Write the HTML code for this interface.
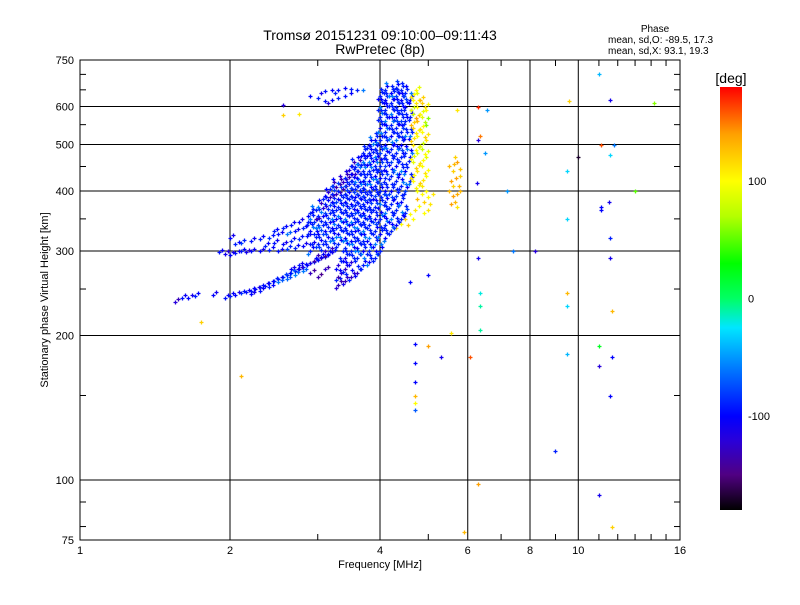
<!DOCTYPE html>
<html><head><meta charset="utf-8"><style>
body{margin:0;background:#fff;}
svg text{font-family:"Liberation Sans",sans-serif;fill:#000;}
</style></head><body>
<svg id="chart" width="800" height="600" xmlns="http://www.w3.org/2000/svg">
<defs><linearGradient id="cb" x1="0" y1="1" x2="0" y2="0">
<stop offset="0" stop-color="#000"/><stop offset="0.083" stop-color="#500082"/><stop offset="0.167" stop-color="#2800dc"/>
<stop offset="0.222" stop-color="#0000ff"/><stop offset="0.333" stop-color="#0078ff"/><stop offset="0.431" stop-color="#00e6ff"/>
<stop offset="0.5" stop-color="#00ff64"/><stop offset="0.583" stop-color="#00ff00"/><stop offset="0.694" stop-color="#b4ff00"/>
<stop offset="0.778" stop-color="#ffff00"/><stop offset="0.889" stop-color="#ffa000"/><stop offset="1" stop-color="#ff0000"/>
</linearGradient></defs>
<text x="380" y="40" font-size="14" text-anchor="middle">Tromsø 20151231 09:10:00–09:11:43</text>
<text x="380" y="54" font-size="14" text-anchor="middle">RwPretec (8p)</text>
<text x="655" y="32" font-size="10" text-anchor="middle">Phase</text>
<text x="608" y="43" font-size="10">mean, sd,O: -89.5, 17.3</text>
<text x="608" y="54" font-size="10">mean, sd,X:  93.1, 19.3</text>
<g id="grid"></g>
<g id="marks"></g>
<rect x="80" y="60" width="600" height="480" fill="none" stroke="#000" stroke-width="1"/>
<g id="axes"></g>
<text x="380" y="568" font-size="11" text-anchor="middle">Frequency [MHz]</text>
<text transform="translate(48,300) rotate(-90)" font-size="11" text-anchor="middle">Stationary phase Virtual Height [km]</text>
<rect x="720" y="87" width="22" height="423" fill="url(#cb)"/>
<text x="731" y="83" font-size="14" text-anchor="middle">[deg]</text>
<g id="cbticks"></g>
</svg>
<script>
const xTicks=[1,2,4,6,8,10,16];
const xGrid=[2,4,6,8,10];
const xMinor=[3,5,7,9,11,12,13,14,15];
const yTicks=[75,100,200,300,400,500,600,750];
const yGrid=[100,200,300,400,500,600];
const yMinor=[80,90,150,250,350,450,550,650,700];
const cbTicks=[100,0,-100];
const lowerTrace=[[1.55,235,-120],[1.6,240,-95],[1.65,240,-100],[1.7,242,-90],[1.85,243,-100],[1.95,240,-95],[2.0,242,-90],[2.05,243,-100],[2.1,245,-85],[2.15,246,-95],[2.2,248,-90],[2.25,250,-100],[2.3,252,-85],[2.35,254,-95],[2.4,257,-90],[2.45,260,-80],[2.5,262,-95],[2.55,265,-70],[2.6,267,-90],[2.65,270,-60],[2.7,272,-95],[2.75,275,-110],[2.8,278,-90],[2.85,280,-100],[2.9,283,-125],[2.95,285,-90],[3.0,288,-95],[3.05,290,-130],[3.1,292,-90],[3.15,295,-100],[3.2,298,-85],[2.5,258,-60],[2.6,262,-65],[2.7,268,-55],[2.8,272,-60],[2.65,275,-100],[2.75,280,-95],[2.3,248,-95],[2.2,244,-100],[2.4,252,-90],[2.9,270,-130],[3.0,265,-135],[3.1,275,-125]];
const band300=[[2.0,295,-100],[2.05,297,-95],[2.1,300,-90],[2.15,298,-110],[2.2,300,-95],[2.05,310,-90],[2.1,312,-80],[2.2,315,-95],[2.3,318,-90],[2.0,320,-100],[2.4,320,-85],[2.5,325,-95],[2.6,325,-60],[2.7,330,-95],[2.8,335,-90],[2.3,300,-100],[2.4,302,-90],[2.5,300,-95],[2.6,303,-80],[2.7,305,-90],[2.8,308,-100],[2.9,310,-95],[2.55,310,-100],[2.65,315,-90],[2.75,318,-85],[2.85,322,-95],[2.95,326,-90],[2.45,312,-95],[2.35,308,-90],[2.55,335,-90],[2.65,340,-95],[2.75,345,-100],[2.85,340,-90],[2.95,345,-85],[2.45,330,-90],[1.9,298,-95],[1.95,296,-110]];
const blobFreqs=[2.9,3.0,3.1,3.2,3.3,3.4,3.5,3.6,3.7,3.8,3.9,4.0,4.1,4.2,4.3,4.4,4.5,4.6];
const blobHeights=[[300,330,350,360],[295,310,325,340,355,370],[300,315,330,345,360,375,390],[305,320,335,350,365,380,395,410],[255,265,280,310,325,340,355,370,385,400,415],[260,275,290,305,320,335,350,365,380,395,410,425],[265,285,300,315,330,345,360,375,390,405,420,435,450],[270,290,305,320,335,350,365,380,395,410,425,440,455],[280,300,315,330,345,360,375,390,405,420,440,460,480],[285,300,320,340,355,370,385,400,420,440,460,480,500],[290,310,330,350,370,390,410,430,450,470,490,510],[300,325,350,375,400,425,450,480,510,540,570,600,630],[320,340,360,380,400,425,450,475,500,530,560,590,620,650],[330,350,375,400,430,460,490,520,550,580,610,640],[340,365,390,420,450,480,510,540,570,600,630,655],[350,380,410,440,470,500,530,560,590,620,650],[360,400,440,480,520,560,600,640],[420,470,520,570,620]];
const blobPhases=[[-90,-100,-60,-90],[-130,-90,-100,-80,-90,-60],[-120,-90,-100,-90,-80,-90,-100],[-130,-90,-100,-60,-90,-100,-90,-80],[-130,-135,-120,-90,-100,-90,-60,-90,-100,-90,-80],[-130,-125,-110,-90,-100,-90,-60,-90,-100,-90,-80,-90],[-130,-120,-90,-100,-90,-60,-90,-100,-90,-80,-90,-100,-90],[-125,-90,-100,-90,-60,-90,-100,-90,-80,-90,-100,-90,-60],[-90,-100,-90,-60,-90,-100,-90,-80,-90,-100,-90,-60,-90],[-100,-90,-60,-90,-100,-90,-80,-90,-100,-90,-60,-90,-100],[-90,-60,-90,-100,-90,-80,-90,-100,-90,-60,-90,-100],[-90,-100,-90,-60,-90,-100,-90,-80,-90,-100,-90,-60,-90],[-100,-90,-60,-90,-100,-90,-80,-90,-100,-90,-60,-90,-100,-90],[-90,-60,-90,-100,-90,-80,-90,-100,-90,-60,-90,-100],[-100,-90,-80,-90,-100,-90,-60,-90,-100,-90,-80,-90],[-90,-100,-90,-60,-90,-100,-90,-80,-90,-100,-90],[-90,-80,-100,-90,-60,-90,-100,-90],[-90,-100,-60,-90,-100]];
const upperTrace=[[2.55,605,-120],[2.9,630,-100],[3.0,625,-90],[3.05,640,-110],[3.1,645,-95],[3.2,648,-100],[3.25,640,-90],[3.3,650,-95],[3.4,655,-100],[3.5,652,-90],[3.1,615,-95],[3.2,620,-100],[3.3,625,-90],[3.4,630,-95],[3.5,640,-100],[3.6,648,-90],[3.15,610,-120],[3.7,650,-60]];
const yellowFreqs=[4.65,4.75,4.85,4.95];
const yellowHeights=[[420,460,500,540,580,620],[400,440,480,520,560,600,640],[410,450,490,530,570,610],[430,470,510,550,590]];
const yellowPhases=[[100,90,110,120,80,100],[95,110,90,100,130,100,90],[110,100,80,100,90,120],[100,90,110,60,100]];
const orangeX=[[5.5,400,130],[5.55,420,140],[5.6,440,120],[5.65,380,130],[5.7,460,140],[5.75,410,130],[5.8,430,120],[5.6,390,140],[5.7,370,110],[5.5,450,130],[5.65,470,120],[5.55,375,140],[5.8,400,130],[5.6,410,120],[5.72,395,135],[5.78,445,125],[5.62,455,130],[5.68,425,140]];
const yellowCurve=[[4.2,330,100],[4.3,335,110],[4.4,342,100],[4.5,350,120],[4.6,358,100],[4.7,365,110],[4.8,372,100],[4.9,380,120],[5.0,388,100],[5.1,395,110],[4.85,395,100],[4.75,385,130],[4.95,400,100],[5.05,375,110],[4.65,350,100],[4.55,340,120],[4.9,360,100],[5.0,365,110]];
const outliers=[[1.75,213,120],[2.1,165,130],[2.55,575,120],[2.75,580,110],[4.7,192,-100],[4.7,175,-100],[4.7,160,-100],[4.7,150,130],[4.7,145,100],[4.7,140,-70],[5.0,190,140],[5.3,180,-110],[5.55,202,110],[5.7,590,110],[6.05,180,160],[6.3,600,170],[6.35,520,150],[6.3,510,-120],[6.25,415,-110],[6.3,290,-110],[6.35,245,-20],[6.35,230,-10],[6.35,205,-10],[6.3,98,140],[6.55,590,-50],[6.5,480,-50],[7.2,400,-50],[7.4,300,-60],[8.2,300,-120],[9.0,115,-90],[9.6,615,120],[9.5,440,-30],[9.5,350,-30],[9.5,245,130],[9.5,230,-30],[9.5,183,-40],[10.0,470,-170],[11.0,700,-40],[11.1,500,160],[11.1,370,-100],[11.1,365,-100],[11.0,190,20],[11.0,173,-120],[11.0,93,-110],[11.6,620,-110],[11.8,500,-60],[11.6,475,-30],[11.5,380,-110],[11.6,320,-90],[11.6,290,-110],[11.7,225,130],[11.7,180,-100],[11.6,150,-100],[11.7,80,120],[13.0,400,50],[14.2,610,60],[5.9,78,130],[5.0,268,-100],[4.6,258,-100]];

const NS="http://www.w3.org/2000/svg";
const X=f=>80+600*Math.log2(f)/4;
const Y=h=>540-480*Math.log10(h/75);
const CY=p=>298.5-423*p/360;
const stops=[[-180,0,0,0],[-150,80,0,130],[-120,40,0,220],[-100,0,0,255],[-60,0,120,255],[-25,0,230,255],[0,0,255,100],[30,0,255,0],[70,180,255,0],[100,255,255,0],[140,255,160,0],[180,255,0,0]];
function col(p){for(let i=1;i<stops.length;i++){if(p<=stops[i][0]){const a=stops[i-1],b=stops[i],t=(p-a[0])/(b[0]-a[0]);return `rgb(${[1,2,3].map(k=>Math.round(a[k]+t*(b[k]-a[k]))).join(',')})`;}}return 'rgb(255,0,0)';}
function mk(tag,attrs,parent){const e=document.createElementNS(NS,tag);for(const k in attrs)e.setAttribute(k,attrs[k]);parent.appendChild(e);return e;}
const grid=document.getElementById('grid'),axes=document.getElementById('axes'),marks=document.getElementById('marks'),cbt=document.getElementById('cbticks');
xGrid.forEach(v=>{const l=mk('line',{x1:X(v),x2:X(v),y1:60,y2:540,stroke:'#000'},grid);

});
yGrid.forEach(v=>{const l=mk('line',{x1:80,x2:680,y1:Y(v),y2:Y(v),stroke:'#000'},grid);

});
xTicks.forEach(v=>{const t=mk('text',{x:X(v),y:554,'font-size':11,'text-anchor':'middle'},axes);t.textContent=v;

});
yTicks.forEach(v=>{const t=mk('text',{x:74,y:Y(v)+4,'font-size':11,'text-anchor':'end'},axes);t.textContent=v;

});
xMinor.forEach(v=>{[[540,534],[60,66]].forEach(([a,b])=>{const l=mk('line',{x1:X(v),x2:X(v),y1:a,y2:b,stroke:'#000'},axes);

});});
yMinor.forEach(v=>{[[80,86],[680,674]].forEach(([a,b])=>{const l=mk('line',{x1:a,x2:b,y1:Y(v),y2:Y(v),stroke:'#000'},axes);

});});
cbTicks.forEach(v=>{const t=mk('text',{x:748,y:CY(v)+4,'font-size':11},cbt);t.textContent=v;

});
function plus(f,h,p){const x=Math.round(X(f))+0.5,y=Math.round(Y(h))+0.5,c=col(p);
const g=mk('path',{d:`M${x-2} ${y}H${x+2}M${x} ${y-2}V${y+2}`,stroke:c,'stroke-width':1.3,fill:'none'},marks);

}
[lowerTrace,band300,upperTrace,orangeX,yellowCurve,outliers].forEach(a=>a.forEach(d=>plus(d[0],d[1],d[2])));
[lowerTrace,band300].forEach(a=>a.forEach(d=>plus(d[0]*1.015,d[1]*1.012,d[2]-10)));
blobFreqs.forEach((f,i)=>blobHeights[i].forEach((h,j)=>{const n=blobPhases[i].length;
plus(f,h,blobPhases[i][j]);
plus(f+0.04,h*1.02,blobPhases[i][(j+1)%n]);
plus(f-0.03,h*0.985,blobPhases[i][(j+2)%n]);
plus(f+0.02,h*1.035,blobPhases[i][(j+3)%n]);}));
yellowFreqs.forEach((f,i)=>yellowHeights[i].forEach((h,j)=>{plus(f,h,yellowPhases[i][j]);plus(f+0.04,h*1.03,yellowPhases[i][j]);plus(f-0.03,h*1.015,yellowPhases[i][j]+10);}));
</script>
</body></html>
